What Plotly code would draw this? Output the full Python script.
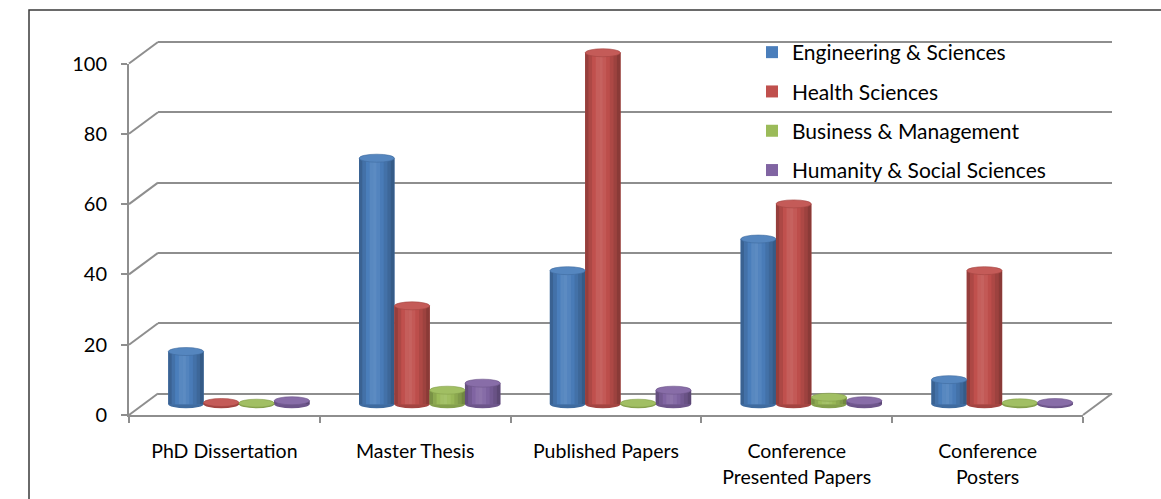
import plotly.graph_objects as go

# ---- data -------------------------------------------------------------
categories = [
    "PhD Dissertation",
    "Master Thesis",
    "Published Papers",
    "Conference<br>Presented Papers",
    "Conference<br>Posters",
]
series_names = [
    "Engineering & Sciences",
    "Health Sciences",
    "Business & Management",
    "Humanity & Social Sciences",
]
engineering = [15, 70, 38, 47, 7]
health = [0.5, 28, 100, 57, 38]
business = [0.3, 4, 0.3, 2, 0.4]
humanity = [1, 6, 4, 1, 0.5]
y_ticks = [0, 20, 40, 60, 80, 100]

series_values = [engineering, health, business, humanity]
series_colors = ["#4A7EBB", "#C0504D", "#9BBB59", "#8064A2"]

# ---- geometry of the pseudo-3D box (pixels) ---------------------------
W, H = 1161, 499
FRONT_X0, FRONT_X1 = 129, 1083
FRONT_ZERO_Y = 415
PPU = 3.515            # pixels per value unit
DEPTH_DX, DEPTH_DY = 29, 21.5
FONT = "Lato, 'Open Sans', sans-serif"
GRID = "#8e8e8e"


def px(x):
    return x / W


def py(y):
    return 1 - y / H


def plane(depth, lo, hi):
    """x/y domains of a plane pushed back by `depth` (0 front, 1 back)."""
    x0 = FRONT_X0 + depth * DEPTH_DX
    x1 = FRONT_X1 + depth * DEPTH_DX
    zero = FRONT_ZERO_Y - depth * DEPTH_DY
    return [px(x0), px(x1)], [py(zero - lo * PPU), py(zero - hi * PPU)]


def shade(hexcol, f):
    r, g, b = (int(hexcol[i:i + 2], 16) for i in (1, 3, 5))
    if f <= 1:
        r, g, b = r * f, g * f, b * f
    else:
        t = f - 1
        r, g, b = r + (255 - r) * t, g + (255 - g) * t, b + (255 - b) * t
    return "rgb(%d,%d,%d)" % (round(r), round(g), round(b))


fig = go.Figure()

# back wall (gridlines) – subplot drawn first so bars sit in front of it
bx, by = plane(1, -1, 101)
fig.add_trace(go.Scatter(x=[0], y=[0], mode="markers", marker=dict(opacity=0),
                         showlegend=False, hoverinfo="skip", xaxis="x", yaxis="y"))

# front plane (axes, ticks and labels)
fx, fy = plane(0, 0, 100)
fig.add_trace(go.Scatter(x=[0], y=[0], mode="markers", marker=dict(opacity=0),
                         showlegend=False, hoverinfo="skip", xaxis="x2", yaxis="y2"))

# middle plane: the cylinders
mx, my = plane(0.5, -4, 104)
BW = 0.185
profile = [0.78, 0.90, 1.00, 1.08, 1.10, 1.05, 0.98, 0.90, 0.82, 0.72]
N = len(profile)
cap_h = 4 / PPU

shapes = []
for i, (name, vals, col) in enumerate(zip(series_names, series_values, series_colors)):
    centers = [k + (i - 1.5) * BW for k in range(len(categories))]
    fig.add_trace(go.Bar(
        x=centers, y=vals, width=BW, name=name, legendgroup=name,
        marker=dict(color=col, line=dict(width=0)),
        xaxis="x3", yaxis="y3", hoverinfo="y",
    ))
    for j, f in enumerate(profile):
        xs = [c - BW / 2 + (j + 0.5) * BW / N for c in centers]
        fig.add_trace(go.Bar(
            x=xs, y=vals, width=BW / N * 1.05, showlegend=False, legendgroup=name,
            marker=dict(color=shade(col, f), line=dict(width=0)),
            xaxis="x3", yaxis="y3", hoverinfo="skip",
        ))
    for c, v in zip(centers, vals):
        # rounded bottom of the cylinder
        shapes.append(dict(type="circle", xref="x3", yref="y3", layer="below",
                           x0=c - BW / 2, x1=c + BW / 2, y0=-cap_h, y1=cap_h,
                           fillcolor=shade(col, 0.85), line=dict(width=0)))
        # top face of the cylinder
        shapes.append(dict(type="circle", xref="x3", yref="y3", layer="above",
                           x0=c - BW / 2, x1=c + BW / 2, y0=v - cap_h, y1=v + cap_h,
                           fillcolor=shade(col, 1.06),
                           line=dict(color=shade(col, 0.85), width=0.6)))

# side wall and floor diagonals
for v in y_ticks:
    shapes.append(dict(type="line", xref="paper", yref="paper", layer="below",
                       x0=px(FRONT_X0), y0=py(FRONT_ZERO_Y - v * PPU),
                       x1=px(FRONT_X0 + DEPTH_DX), y1=py(FRONT_ZERO_Y - DEPTH_DY - v * PPU),
                       line=dict(color=GRID, width=2)))
shapes.append(dict(type="line", xref="paper", yref="paper", layer="below",
                   x0=px(FRONT_X1), y0=py(FRONT_ZERO_Y),
                   x1=px(FRONT_X1 + DEPTH_DX), y1=py(FRONT_ZERO_Y - DEPTH_DY),
                   line=dict(color=GRID, width=2)))
# chart frame
shapes.append(dict(type="rect", xref="paper", yref="paper", layer="below",
                   x0=px(29), x1=1.05, y0=-0.05, y1=py(10),
                   line=dict(color="#3a3a3a", width=1.5), fillcolor="rgba(0,0,0,0)"))

hidden = dict(visible=False, fixedrange=True, automargin=False)
fig.update_layout(
    width=W, height=H,
    margin=dict(l=0, r=0, t=0, b=0, autoexpand=False),
    paper_bgcolor="white", plot_bgcolor="rgba(0,0,0,0)",
    barmode="overlay",
    font=dict(family=FONT, color="black"),
    xaxis=dict(domain=bx, range=[-0.5, 4.5], anchor="y", **hidden),
    yaxis=dict(domain=by, range=[-1, 101], anchor="x", tickvals=y_ticks,
               showgrid=True, gridcolor=GRID, gridwidth=2, zeroline=False,
               showticklabels=False, ticks="", showline=False, fixedrange=True,
               automargin=False),
    xaxis2=dict(domain=fx, range=[-0.5, 4.5], anchor="y2",
                tickvals=list(range(len(categories))), ticktext=categories,
                ticks="", showgrid=False, zeroline=False,
                showline=True, linecolor=GRID, linewidth=2,
                tickfont=dict(size=19.5, family=FONT), ticklabelstandoff=18,
                minor=dict(tick0=-0.5, dtick=1, ticks="outside", ticklen=6,
                           tickwidth=2, tickcolor=GRID, showgrid=False),
                fixedrange=True, automargin=False),
    yaxis2=dict(domain=fy, range=[0, 100], anchor="x2", tickvals=y_ticks,
                ticks="outside", ticklen=6, tickwidth=2, tickcolor=GRID,
                showline=True, linecolor=GRID, linewidth=2,
                showgrid=False, zeroline=False, ticklabelstandoff=10,
                tickfont=dict(size=20, family=FONT), fixedrange=True,
                automargin=False),
    xaxis3=dict(domain=mx, range=[-0.5, 4.5], anchor="y3", **hidden),
    yaxis3=dict(domain=my, range=[-4, 104], anchor="x3", **hidden),
    shapes=shapes,
    legend=dict(x=px(752), y=py(32), xanchor="left", yanchor="top",
                bgcolor="rgba(0,0,0,0)", font=dict(size=21, family=FONT),
                tracegroupgap=9, traceorder="grouped"),
    showlegend=True,
)

fig.write_html("out.html")
